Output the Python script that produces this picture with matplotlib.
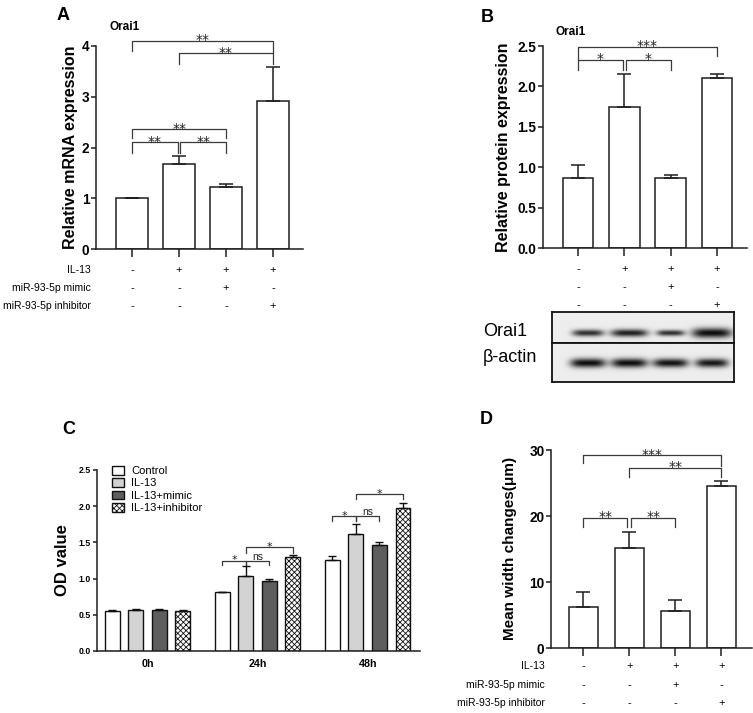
import numpy as np
import matplotlib
matplotlib.use("Agg")
import matplotlib.pyplot as plt
from matplotlib import transforms
from matplotlib.patches import Patch

plt.rcParams["font.family"] = ["Liberation Sans", "DejaVu Sans"]
plt.rcParams["hatch.linewidth"] = 0.6

W, H = 753, 713

# ── Data ──────────────────────────────────────────────────────────────────────
IL13_ROW  = ["-", "+", "+", "+"]
MIMIC_ROW = ["-", "-", "+", "-"]
INHIB_ROW = ["-", "-", "-", "+"]
ROW_NAMES = ["IL-13", "miR-93-5p mimic", "miR-93-5p inhibitor"]

mrna_mean = [1.00, 1.68, 1.22, 2.92]
mrna_err  = [0.00, 0.15, 0.07, 0.67]

prot_mean = [0.87, 1.75, 0.87, 2.10]
prot_err  = [0.16, 0.40, 0.03, 0.05]

width_mean = [6.15, 15.2, 5.65, 24.5]
width_err  = [2.30, 2.45, 1.60, 0.75]

TIMES = ["0h", "24h", "48h"]
OD_SERIES = ["Control", "IL-13", "IL-13+mimic", "IL-13+inhibitor"]
od_control     = [0.55, 0.81, 1.26]
od_control_err = [0.02, 0.01, 0.05]
od_il13        = [0.57, 1.04, 1.62]
od_il13_err    = [0.015, 0.13, 0.14]
od_mimic       = [0.56, 0.96, 1.47]
od_mimic_err   = [0.02, 0.04, 0.04]
od_inhib       = [0.55, 1.30, 1.98]
od_inhib_err   = [0.01, 0.03, 0.07]

# brackets: (x1, x2, y, left leg end, right leg end, label)
A_BRACKETS = [(0, 3, 4.10, 3.90, 3.88, "**"),
              (1, 3, 3.85, 3.65, 3.65, "**"),
              (0, 2, 2.36, 2.19, 2.19, "**"),
              (0, 0.97, 2.10, 1.90, 1.90, "**"),
              (1.03, 2, 2.10, 1.90, 1.90, "**")]
B_BRACKETS = [(0, 3, 2.49, 2.33, 2.38, "***"),
              (0, 0.96, 2.33, 2.20, 2.20, "*"),
              (1.04, 2, 2.33, 2.20, 2.20, "*")]
D_BRACKETS = [(0, 3, 29.2, 28.0, 27.6, "***"),
              (1, 3, 27.3, 25.9, 25.9, "**"),
              (0, 0.96, 19.7, 18.3, 18.3, "**"),
              (1.04, 2, 19.7, 18.3, 18.3, "**")]
# (time index, bar a, bar b, y, leg end, label)
C_BRACKETS = [(1, 0, 1, 1.25, 1.19, "*"), (1, 1, 2, 1.25, 1.19, "ns"),
              (1, 1, 3, 1.43, 1.36, "*"),
              (2, 0, 1, 1.865, 1.80, "*"), (2, 1, 2, 1.865, 1.80, "ns"),
              (2, 1, 3, 2.17, 2.10, "*")]

# western blot band strengths per lane
orai_int    = [0.85, 0.92, 0.85, 1.00]
orai_wid    = [0.76, 0.90, 0.68, 0.97]
orai_thick  = [3.4, 3.8, 3.0, 5.0]
actin_int   = [1.0, 1.0, 0.98, 0.96]
actin_wid   = [0.86, 0.88, 0.86, 0.80]
actin_thick = [4.6, 4.6, 4.4, 4.4]

LINE = "#1e1e1e"
BR = "#3a3a3a"


def rect(l, t, r, b):
    return [l / W, 1 - b / H, (r - l) / W, (b - t) / H]


def style(ax, labelsize=9.8, ylen=3.5):
    ax.spines[["top", "right"]].set_visible(False)
    for s in ["left", "bottom"]:
        ax.spines[s].set_linewidth(1.1)
        ax.spines[s].set_color(LINE)
    ax.tick_params(axis="y", width=1.1, color=LINE, length=ylen, pad=1.2,
                   labelsize=labelsize)
    ax.tick_params(axis="x", width=1.1, color=LINE, length=6)
    for lab in ax.get_yticklabels():
        lab.set_fontweight("bold")


def simple_bars(ax, means, errs, width):
    x = np.arange(len(means))
    ax.bar(x, means, width, color="white", edgecolor=LINE, linewidth=1.1, zorder=2)
    ax.errorbar(x, means, yerr=[np.zeros(len(errs)), errs], fmt="none",
                ecolor=LINE, elinewidth=1.1, capsize=5, capthick=1.1, zorder=3)
    ax.set_xticks(x)
    ax.set_xticklabels([])


def bracket(ax, x1, x2, y, yl, yr, label, fs=10, dy=-2.5):
    ax.plot([x1, x1, x2, x2], [yl, y, y, yr], color=BR, lw=0.9, clip_on=False)
    fam = "DejaVu Sans" if "*" in label else "Liberation Sans"
    ax.annotate(label, ((x1 + x2) / 2, y), xytext=(0, dy), textcoords="offset points",
                ha="center", va="baseline", fontsize=fs, color="#222",
                family=fam, annotation_clip=False)


def sign_rows(fig, ax, rows, ys, names=None, name_x=None):
    tr = transforms.blended_transform_factory(ax.transData, fig.transFigure)
    for k, (row, ypx) in enumerate(zip(rows, ys)):
        for i, s in enumerate(row):
            ax.text(i, 1 - ypx / H, s, transform=tr, ha="center", va="center",
                    fontsize=8)
        if names is not None:
            fig.text(name_x / W, 1 - ypx / H, names[k], ha="right", va="center",
                     fontsize=7.5)


def blot(ax, ints, wids, thick, h_px, center_px, x0=-0.87, x1=3.53):
    xs = np.linspace(x0, x1, 400)
    ys = np.linspace(0, h_px, 160)
    X, Y = np.meshgrid(xs, ys)
    dark = np.zeros_like(X)
    for i, (a, w, t) in enumerate(zip(ints, wids, thick)):
        dark += a * np.exp(-np.abs((X - i) / (w / 2)) ** 4 - ((Y - center_px) / t) ** 2)
    img = 0.93 - 0.88 * np.clip(dark, 0, 1)
    ax.imshow(img, cmap="gray", vmin=0, vmax=1, extent=(x0, x1, h_px, 0),
              aspect="auto", interpolation="bilinear")
    ax.set_xticks([])
    ax.set_yticks([])
    for s in ax.spines.values():
        s.set_linewidth(1.3)
        s.set_color("#111")


fig = plt.figure(figsize=(W / 100, H / 100), dpi=100)

# ── Panel A ───────────────────────────────────────────────────────────────────
axA = fig.add_axes(rect(96, 45.7, 303, 249.3))
simple_bars(axA, mrna_mean, mrna_err, 0.68)
axA.set_xlim(-0.77, 3.64)
axA.set_ylim(0, 4)
axA.set_yticks([0, 1, 2, 3, 4])
style(axA)
for b in A_BRACKETS:
    bracket(axA, *b)
sign_rows(fig, axA, [IL13_ROW, MIMIC_ROW, INHIB_ROW], [270, 288, 306], ROW_NAMES, 91)
fig.text(71 / W, 1 - 147 / H, "Relative mRNA expression", rotation=90, ha="center",
         va="center", fontsize=11.5, fontweight="bold")
fig.text(109 / W, 1 - 27 / H, "Orai1", fontsize=8.5, fontweight="bold", va="center")
fig.text(63 / W, 1 - 15 / H, "A", fontsize=13, fontweight="bold", ha="center", va="center")

# ── Panel B ───────────────────────────────────────────────────────────────────
axB = fig.add_axes(rect(543, 46, 747, 248.3))
simple_bars(axB, prot_mean, prot_err, 0.66)
axB.set_xlim(-0.76, 3.65)
axB.set_ylim(0, 2.5)
axB.set_yticks([0, 0.5, 1.0, 1.5, 2.0, 2.5])
axB.set_yticklabels(["0.0", "0.5", "1.0", "1.5", "2.0", "2.5"])
style(axB)
for b in B_BRACKETS:
    bracket(axB, *b)
sign_rows(fig, axB, [IL13_ROW, MIMIC_ROW, INHIB_ROW], [269, 287, 305])
fig.text(504 / W, 1 - 147 / H, "Relative protein expression", rotation=90, ha="center",
         va="center", fontsize=11.5, fontweight="bold")
fig.text(555 / W, 1 - 32 / H, "Orai1", fontsize=8.5, fontweight="bold", va="center")
fig.text(487 / W, 1 - 17 / H, "B", fontsize=13, fontweight="bold", ha="center", va="center")

axBl1 = fig.add_axes(rect(552, 312, 734, 343))
blot(axBl1, orai_int, orai_wid, orai_thick, 31, 21)
axBl2 = fig.add_axes(rect(552, 343, 734, 382))
blot(axBl2, actin_int, actin_wid, actin_thick, 39, 20)
fig.text(483 / W, 1 - 331 / H, "Orai1", fontsize=13, va="center")
fig.text(483 / W, 1 - 357 / H, "\u03b2-actin", fontsize=13, va="center")

# ── Panel C ───────────────────────────────────────────────────────────────────
axC = fig.add_axes(rect(97, 470, 420, 651))
gx = np.arange(len(TIMES))
off = 0.2136
bw = 0.136
c_means = [od_control, od_il13, od_mimic, od_inhib]
c_errs = [od_control_err, od_il13_err, od_mimic_err, od_inhib_err]
c_faces = ["white", "#d3d3d3", "#5e5e5e", "white"]
c_hatch = ["", "", "", "xxxxxx"]
for j in range(4):
    xs = gx + (j - 1.5) * off
    axC.bar(xs, c_means[j], bw, color=c_faces[j], edgecolor="#111", hatch=c_hatch[j],
            linewidth=1.0, zorder=2)
    axC.errorbar(xs, c_means[j], yerr=[np.zeros(3), c_errs[j]], fmt="none", ecolor="#111",
                 elinewidth=1.0, capsize=3, capthick=1.0, zorder=3)
axC.set_xlim(-0.46, 2.475)
axC.set_ylim(0, 2.5)
axC.set_yticks([0, 0.5, 1.0, 1.5, 2.0, 2.5])
axC.set_yticklabels(["0.0", "0.5", "1.0", "1.5", "2.0", "2.5"])
axC.set_xticks(gx)
axC.set_xticklabels(TIMES, fontsize=7.7, fontweight="bold")
style(axC, labelsize=6.3, ylen=3)
axC.tick_params(axis="x", length=0, pad=6)
for t, a, b, y, yleg, lab in C_BRACKETS:
    bracket(axC, t + (a - 1.5) * off, t + (b - 1.5) * off, y, yleg, yleg, lab,
            fs=8 if lab == "*" else 7.5, dy=-2.0 if lab == "*" else 0.5)
handles = [Patch(facecolor=c_faces[j], edgecolor="#111", hatch=c_hatch[j], linewidth=1.0,
                 label=OD_SERIES[j]) for j in range(4)]
axC.legend(handles=handles, loc="upper left", bbox_to_anchor=(112 / W, 1 - 466 / H),
           bbox_transform=fig.transFigure, frameon=False, fontsize=8,
           handlelength=1.1, handleheight=0.8, handletextpad=0.6, labelspacing=0.2,
           borderpad=0, borderaxespad=0)
fig.text(63 / W, 1 - 560 / H, "OD value", rotation=90, ha="center", va="center",
         fontsize=12, fontweight="bold")
fig.text(69 / W, 1 - 430 / H, "C", fontsize=13, fontweight="bold", ha="center", va="center")

# ── Panel D ───────────────────────────────────────────────────────────────────
axD = fig.add_axes(rect(551, 450, 752, 648))
simple_bars(axD, width_mean, width_err, 0.63)
axD.set_xlim(-0.70, 3.67)
axD.set_ylim(0, 30)
axD.set_yticks([0, 10, 20, 30])
style(axD)
for b in D_BRACKETS:
    bracket(axD, *b)
sign_rows(fig, axD, [IL13_ROW, MIMIC_ROW, INHIB_ROW], [666, 685, 703], ROW_NAMES, 545)
fig.text(510 / W, 1 - 548 / H, "Mean width changes(\u03bcm)", rotation=90, ha="center",
         va="center", fontsize=11, fontweight="bold")
fig.text(486 / W, 1 - 420 / H, "D", fontsize=13, fontweight="bold", ha="center", va="center")

fig.savefig("out.png", dpi=100)
